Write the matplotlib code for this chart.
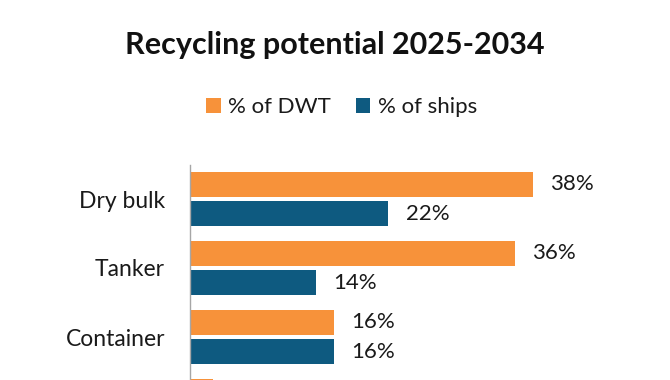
import matplotlib as mpl
mpl.use('Agg')

import matplotlib.pyplot as plt
import numpy as np

# data
categories = ["Dry bulk", "Tanker", "Container", "Other"]
dwt = [38, 36, 16, 2.5]
ships = [22, 14, 16, 5]

orange = "#F7923A"
blue = "#0E5A80"
txt = "#1A1A1A"

plt.rcParams['font.family'] = ['Lato', 'DejaVu Sans']

fig = plt.figure(figsize=(6.7, 3.8), dpi=100)

# axes placed in pixels (bottom cut off like the reference)
W, H = 670, 380
unit = 69
top_px = 199 - 0.5 * unit
bot_px = 199 + 3.5 * unit
left_px, right_px = 190, 596
ax = fig.add_axes([left_px / W, (H - bot_px) / H, (right_px - left_px) / W, (bot_px - top_px) / H])

y = np.arange(len(categories))
h = 0.37
off = 0.213
b1 = ax.barh(y - off, dwt, height=h, color=orange, label="% of DWT")
b2 = ax.barh(y + off, ships, height=h, color=blue, label="% of ships")

# value labels (the last group falls below the picture edge)
for bars, vals in ((b1, dwt), (b2, ships)):
    for bar, v in list(zip(bars, vals))[:3]:
        ax.text(bar.get_width() + 1.9, bar.get_y() + bar.get_height() / 2, "%d%%" % round(v),
                va='center', ha='left', fontsize=16, color=txt)

ax.set_xlim(0, 45)
ax.set_ylim(3.5, -0.5)
ax.set_yticks(y[:3])
ax.set_yticklabels(categories[:3], fontsize=16.5, color=txt)
ax.tick_params(axis='y', length=0, pad=18)
ax.set_xticks([])
for s in ['top', 'right', 'bottom']:
    ax.spines[s].set_visible(False)
ax.spines['left'].set_color('#A6A6A6')
ax.spines['left'].set_linewidth(1.0)

fig.text(0.5, 1 - 45 / H, "Recycling potential 2025-2034", ha='center', va='center',
         fontsize=22, fontweight='bold', color='#111111')

fig.legend(handles=[b1, b2], loc='center', bbox_to_anchor=(0.51, 1 - 107 / H), ncol=2,
           frameon=False, fontsize=16, handlelength=0.65, handleheight=0.65,
           handletextpad=0.35, columnspacing=1.1, labelcolor=txt)

fig.savefig("out.png", dpi=100)
